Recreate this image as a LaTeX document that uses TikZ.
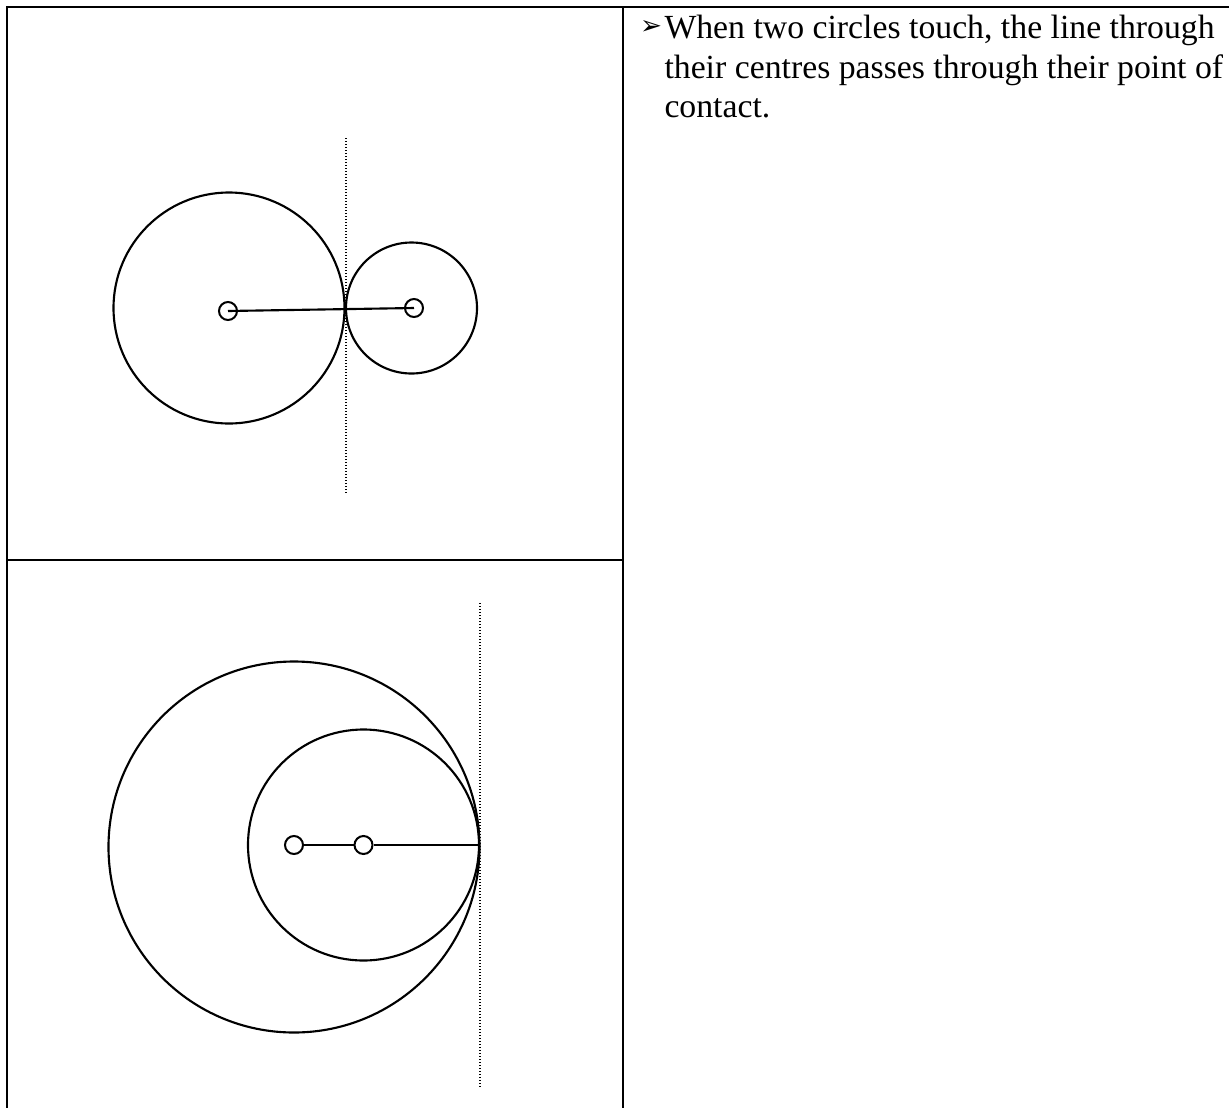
\documentclass[tikz,border=0pt]{standalone}
\usepackage{fontspec}
\setmainfont{Liberation Serif}
\newfontfamily\symfont{DejaVu Sans}
\usepackage{tikz}
\usetikzlibrary{positioning}
\definecolor{ink}{HTML}{000000}
\tikzset{
  rule/.style={line width=1.1pt,draw=ink},
  circ/.style={line width=0.85pt,draw=ink},
  centre/.style={circle,draw=ink,line width=0.8pt,inner sep=0pt,minimum size=7.2pt},
  tangent/.style={line width=0.45pt,draw=ink,dash pattern=on 0.45pt off 0.75pt},
  note/.style={anchor=north west,inner sep=0pt,align=left,
    font=\fontsize{13.5}{15.8}\selectfont}
}
\begin{document}
\begin{tikzpicture}[x=0.4pt,y=-0.4pt]
\useasboundingbox (0,0) rectangle (1229,1108);
% table rules
\draw[rule] (7,1108) -- (7,7) -- (1229,7);
\draw[rule] (623,7) -- (623,1108);
\draw[rule] (7,560) -- (623,560);
% touching outside
\draw[circ] (229,308) circle (115.5);
\draw[circ] (411.5,308) circle (65.5);
\draw[tangent] (346,138) -- (346,493);
\node[centre] (p1) at (228,311) {};
\node[centre] (p2) at (414,308) {};
\draw[circ] (p1.center) -- (p2.center);
% touching inside
\draw[circ] (294,847) circle (185.5);
\draw[circ] (363.5,845) circle (115.5);
\draw[tangent] (480,603) -- (480,1087);
\coordinate (t2) at (479,845);
\node[centre,fill=white] (q1) at (294,845) {};
\node[centre,fill=white] (q2) at (363.5,845) {};
\draw[circ] (q1) -- (q2);
\draw[circ] (q2) -- (t2);
% statement
\node[note] (fact) at (664,15) {When two circles touch, the line through\\
their centres passes through their point of\\
contact.};
\node[inner sep=0pt,font=\symfont\fontsize{10.5}{10.5}\selectfont] (mark) at (651,27) {➢};
\end{tikzpicture}
\end{document}
